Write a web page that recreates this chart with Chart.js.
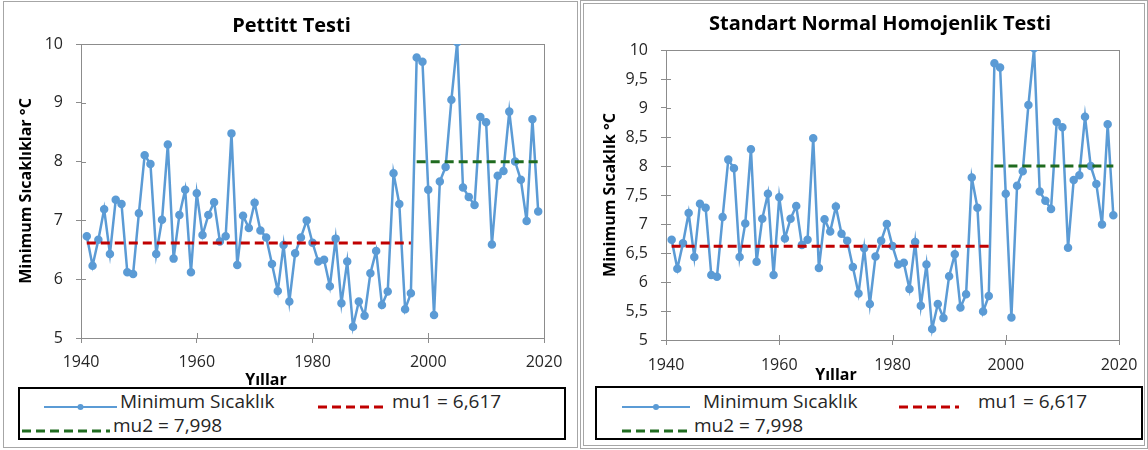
<!DOCTYPE html>
<html>
<head>
<meta charset="utf-8">
<script src="https://cdn.jsdelivr.net/npm/chart.js@4.4.0/dist/chart.umd.min.js"></script>
<style>
  body { margin: 0; width: 1148px; height: 450px; overflow: hidden; background: #fff; font-family: "Open Sans", sans-serif; }
  .panel { position: absolute; box-sizing: border-box; }
  #p1 { left: 3px; top: 1px; width: 575px; height: 447px; border: 1px solid #a6a6a6; }
  #p2 { left: 580px; top: 0px; width: 568px; height: 449px; border: 4px double #a6a6a6; }
  canvas { position: absolute; }
  .legend { position: absolute; box-sizing: border-box; border: 2px solid #000; }
  .lg-text { position: absolute; font-size: 19px; line-height: 20px; color: #262626; white-space: nowrap; }
  .lg-sample { position: absolute; }
</style>
</head>
<body>
<div class="panel" id="p1"></div>
<div class="panel" id="p2"></div>
<canvas id="c1" width="573" height="384" style="left:5px; top:2px;"></canvas>
<canvas id="c2" width="592" height="382" style="left:584px; top:4px;"></canvas>
<div class="legend" style="left:18px; top:387px; width:548px; height:53px;"></div>
<div class="legend" style="left:595px; top:386px; width:548px; height:54px;"></div>
<div id="lg"></div>
<script>
const years = [1941, 1942, 1943, 1944, 1945, 1946, 1947, 1948, 1949, 1950,
  1951, 1952, 1953, 1954, 1955, 1956, 1957, 1958, 1959, 1960,
  1961, 1962, 1963, 1964, 1965, 1966, 1967, 1968, 1969, 1970,
  1971, 1972, 1973, 1974, 1975, 1976, 1977, 1978, 1979, 1980,
  1981, 1982, 1983, 1984, 1985, 1986, 1987, 1988, 1989, 1990,
  1991, 1992, 1993, 1994, 1995, 1996, 1997, 1998, 1999, 2000,
  2001, 2002, 2003, 2004, 2005, 2006, 2007, 2008, 2009, 2010,
  2011, 2012, 2013, 2014, 2015, 2016, 2017, 2018, 2019];
const minTemp = [6.73, 6.23, 6.67, 7.19, 6.43, 7.35, 7.28, 6.12, 6.09, 7.12,
  8.11, 7.96, 6.43, 7.01, 8.29, 6.35, 7.09, 7.52, 6.12, 7.46,
  6.75, 7.09, 7.31, 6.64, 6.73, 8.48, 6.24, 7.08, 6.87, 7.30,
  6.83, 6.71, 6.26, 5.80, 6.58, 5.62, 6.44, 6.71, 7.00, 6.62,
  6.30, 6.33, 5.88, 6.69, 5.59, 6.30, 5.19, 5.62, 5.38, 6.10,
  6.48, 5.56, 5.79, 7.80, 7.28, 5.49, 5.76, 9.77, 9.70, 7.52,
  5.39, 7.66, 7.91, 9.05, 10.03, 7.56, 7.40, 7.26, 8.76, 8.67,
  6.59, 7.76, 7.84, 8.85, 8.00, 7.69, 6.99, 8.72, 7.15];
const mu1 = 6.617;
const mu2 = 7.998;
const mu1Years = [1941, 1997];
const mu2Years = [1998, 2019];
const xTicks = [1940, 1960, 1980, 2000, 2020];
const xLabels = ['1940', '1960', '1980', '2000', '2020'];
const yTicks1 = [5, 6, 7, 8, 9, 10];
const yLabels1 = ['5', '6', '7', '8', '9', '10'];
const yTicks2 = [5, 5.5, 6, 6.5, 7, 7.5, 8, 8.5, 9, 9.5, 10];
const yLabels2 = ['5', '5,5', '6', '6,5', '7', '7,5', '8', '8,5', '9', '9,5', '10'];

const blue = '#5b9bd5';
const red = '#c00000';
const green = '#1f6b1f';
const axisGrey = '#8c8c8c';

Chart.defaults.font.family = '"Open Sans", sans-serif';
Chart.defaults.color = '#262626';

// plot frame, inner half of the cross ticks, and the moved x axis title
const frame = {
  id: 'frame',
  beforeDatasetsDraw(chart) {
    const { ctx, chartArea: a, scales: { x, y } } = chart;
    ctx.save();
    ctx.strokeStyle = axisGrey;
    ctx.lineWidth = 1;
    ctx.strokeRect(Math.round(a.left) + 0.5, Math.round(a.top) + 0.5, Math.round(a.right - a.left), Math.round(a.bottom - a.top));
    ctx.beginPath();
    x.ticks.forEach((t) => {
      const px = Math.round(x.getPixelForValue(t.value)) + 0.5;
      ctx.moveTo(px, a.bottom);
      ctx.lineTo(px, a.bottom - 5);
    });
    y.ticks.forEach((t) => {
      const py = Math.round(y.getPixelForValue(t.value)) + 0.5;
      ctx.moveTo(a.left, py);
      ctx.lineTo(a.left + 5, py);
    });
    ctx.stroke();
    ctx.restore();
  },
  afterDraw(chart, args, opts) {
    const ctx = chart.ctx;
    ctx.save();
    ctx.font = 'bold 16px "Open Sans"';
    ctx.fillStyle = '#000';
    ctx.textAlign = 'center';
    ctx.textBaseline = 'middle';
    ctx.fillText(opts.text, opts.x, opts.y);
    ctx.restore();
  },
};

function buildChart(id, cfg) {
  return new Chart(document.getElementById(id), {
    type: 'line',
    data: {
      datasets: [
        {
          label: 'Minimum Sıcaklık',
          data: years.map((yr, i) => ({ x: yr, y: minTemp[i] })),
          borderColor: blue,
          backgroundColor: blue,
          borderWidth: 2.5,
          pointRadius: 3,
          pointHoverRadius: 3,
          order: 2,
        },
        {
          label: 'mu1 = ' + mu1.toFixed(3).replace('.', ','),
          data: mu1Years.map((yr) => ({ x: yr, y: mu1 })),
          borderColor: red,
          borderDash: [9, 5],
          borderWidth: 3,
          pointRadius: 0,
          order: 1,
        },
        {
          label: 'mu2 = ' + mu2.toFixed(3).replace('.', ','),
          data: mu2Years.map((yr) => ({ x: yr, y: mu2 })),
          borderColor: green,
          borderDash: [9, 5],
          borderWidth: 3,
          pointRadius: 0,
          order: 1,
        },
      ],
    },
    options: {
      responsive: false,
      animation: false,
      layout: { padding: 0 },
      plugins: {
        legend: { display: false },
        tooltip: { enabled: false },
        title: {
          display: true,
          text: cfg.title,
          color: '#000',
          font: { size: 20, weight: 'bold' },
          padding: cfg.titlePad,
        },
        frame: cfg.xTitle,
      },
      scales: {
        x: {
          type: 'linear',
          min: 1940,
          max: 2020,
          afterBuildTicks: (s) => { s.ticks = xTicks.map((v) => ({ value: v })); },
          afterFit: (s) => { s.height = cfg.xHeight; },
          ticks: {
            callback: (v) => xLabels[xTicks.indexOf(v)],
            font: { size: 16 },
            padding: cfg.xTickPad,
            maxRotation: 0,
          },
          grid: { drawOnChartArea: false, tickLength: 5, color: axisGrey },
          border: { color: axisGrey },
        },
        y: {
          min: 5,
          max: 10,
          afterBuildTicks: (s) => { s.ticks = cfg.yTicks.map((v) => ({ value: v })); },
          afterFit: (s) => { s.width = cfg.yWidth; },
          ticks: {
            callback: (v) => cfg.yLabels[cfg.yTicks.indexOf(v)],
            font: { size: 16 },
            padding: 13,
          },
          grid: { drawOnChartArea: false, tickLength: 5, color: axisGrey },
          border: { color: axisGrey },
          title: {
            display: true,
            text: cfg.yTitle,
            color: '#000',
            font: { size: 16, weight: 'bold' },
            padding: { top: cfg.yTitlePad, bottom: 0 },
          },
        },
        gap: {
          position: 'right',
          display: true,
          ticks: { display: false },
          grid: { display: false },
          border: { display: false },
          afterFit: (s) => { s.width = cfg.rightGap; },
        },
      },
    },
    plugins: [frame],
  });
}

const chart1 = buildChart('c1', {
  title: 'Pettitt Testi',
  titlePad: { top: 12, bottom: 6 },
  yTitle: 'Minimum Sıcaklıklar °C',
  yTitlePad: 12,
  yTicks: yTicks1,
  yLabels: yLabels1,
  yWidth: 76,
  xHeight: 48,
  xTickPad: 10,
  rightGap: 34,
  xTitle: { text: 'Yıllar', x: 261, y: 378 },
});

const chart2 = buildChart('c2', {
  title: 'Standart Normal Homojenlik Testi',
  titlePad: { top: 8, bottom: 14 },
  yTitle: 'Minimum Sıcaklık °C',
  yTitlePad: 17,
  yTicks: yTicks2,
  yLabels: yLabels2,
  yWidth: 82,
  xHeight: 46,
  xTickPad: 11,
  rightGap: 57,
  xTitle: { text: 'Yıllar', x: 252, y: 371 },
});

// legend entries: sample start/end, text start, row centre (page pixels)
const legendSpots = [
  [
    { x0: 44, x1: 117, tx: 120, y: 402 },
    { x0: 318, x1: 387, tx: 392, y: 402 },
    { x0: 22, x1: 110, tx: 113, y: 426 },
  ],
  [
    { x0: 622, x1: 690, tx: 703, y: 402 },
    { x0: 899, x1: 959, tx: 978, y: 402 },
    { x0: 622, x1: 689, tx: 694, y: 426 },
  ],
];

const lg = document.getElementById('lg');
[chart1, chart2].forEach((chart, ci) => {
  chart.data.datasets.forEach((ds, di) => {
    const spot = legendSpots[ci][di];
    const w = spot.x1 - spot.x0;
    const dash = ds.borderDash ? ' stroke-dasharray="' + ds.borderDash.join(' ') + '"' : '';
    const dot = ds.pointRadius ? '<circle cx="' + w / 2 + '" cy="6" r="3" fill="' + ds.borderColor + '"/>' : '';
    const sample = document.createElement('div');
    sample.className = 'lg-sample';
    sample.style.left = spot.x0 + 'px';
    sample.style.top = (spot.y - 6) + 'px';
    sample.innerHTML = '<svg width="' + w + '" height="12"><line x1="0" y1="6" x2="' + w + '" y2="6" stroke="' +
      ds.borderColor + '" stroke-width="' + (ds.pointRadius ? 2 : ds.borderWidth) + '"' + dash + '/>' + dot + '</svg>';
    lg.appendChild(sample);

    const text = document.createElement('div');
    text.className = 'lg-text';
    text.style.left = spot.tx + 'px';
    text.style.top = (spot.y - 11) + 'px';
    text.textContent = ds.label;
    lg.appendChild(text);
  });
});
</script>
</body>
</html>
